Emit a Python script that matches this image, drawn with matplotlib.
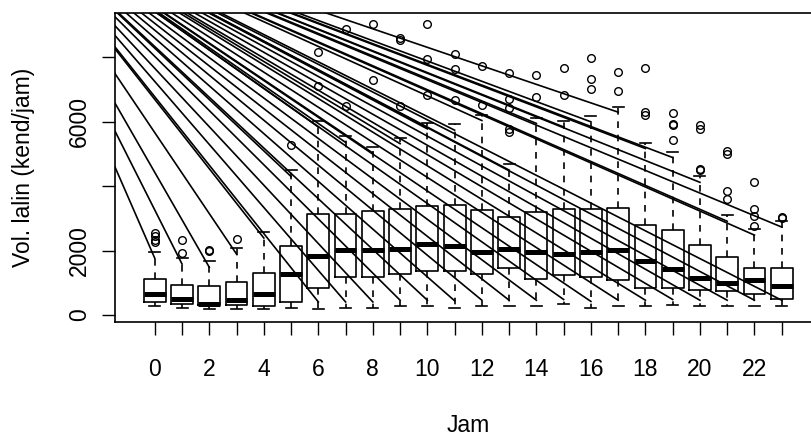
import numpy as np
import matplotlib
matplotlib.use("Agg")
import matplotlib.pyplot as plt

# Jam (hour of day) and box statistics
hours = list(range(24))
whisk_lo = [280, 230, 177, 177, 177, 230, 177, 230, 230, 280, 280, 230,
            280, 280, 280, 332, 230, 280, 280, 323, 280, 280, 280, 280]
q1 = [404, 332, 301, 301, 280, 404, 851, 1180, 1180, 1264, 1367, 1367,
      1264, 1472, 1130, 1233, 1180, 1077, 851, 851, 767, 736, 665, 509]
med = [665, 509, 354, 457, 665, 1286, 1823, 2010, 2010, 2062, 2196, 2134,
       1957, 2041, 1957, 1907, 1957, 2010, 1668, 1429, 1149, 994, 1077, 901]
q3 = [1130, 944, 891, 1025, 1317, 2143, 3149, 3149, 3221, 3305, 3377, 3429,
      3252, 3044, 3199, 3283, 3283, 3336, 2808, 2631, 2187, 1801, 1460, 1460]
whisk_hi = [1957, 1760, 1668, 2093, 2578, 4494, 6026, 5550, 5218, 5509, 5963, 5923,
            6224, 4681, 6131, 6026, 6181, 6461, 5355, 5063, 4308, 3097, 2662, 2910]
outliers = [
    [2258, 2342, 2444, 2547], [1926, 2320], [1988, 2031], [2351], [],
    [5293], [7113, 8169], [6482, 8895], [7311, 9051], [6482, 8532, 8616],
    [6823, 7964, 9051], [6690, 7631, 8119], [6535, 7735],
    [5684, 5789, 6441, 6721, 7529], [6771, 7445], [6823, 7684],
    [7032, 7342, 7984], [6958, 7539], [6202, 6305, 7684],
    [5426, 5892, 5923, 6286], [4494, 4547, 5789, 5892],
    [3615, 3851, 5013, 5094], [2764, 3075, 3305, 4131], [3000, 3044],
]

# stray lines drawn over the boxes: common start, one end per box
line_start = (-4.7, 12830)
line_hi_end = [1760, 1580, 1480, 1890, 2390, 4300, 5840, 5360, 5030, 5320, 5780, 5740,
               6040, 4500, 5950, 5840, 6000, 6300, 5170, 4890, 4120, 2910, 2480, 2730]
line_lo_end = [None, None, None, None, None, None, 404, 404, 404, 457, 457, 440,
               457, 457, 457, 480, 420, 457, 457, 480, 457, 457, 457, 457]

plt.rcParams['font.family'] = ['Liberation Sans', 'DejaVu Sans']

fig = plt.figure(figsize=(8.11, 4.36), dpi=100)
ax = fig.add_axes([115 / 811, 114.3 / 436, 706.5 / 811, 309 / 436])

pos = np.arange(1, 25)
stats = []
for i in range(24):
    stats.append(dict(med=med[i], q1=q1[i], q3=q3[i], whislo=whisk_lo[i],
                      whishi=whisk_hi[i], fliers=outliers[i]))

ax.bxp(stats, positions=pos, widths=0.8, showfliers=True,
       boxprops=dict(color='black', linewidth=1.2),
       medianprops=dict(color='black', linewidth=3.6, solid_capstyle='butt'),
       whiskerprops=dict(color='black', linewidth=1.2, linestyle=(0, (4, 4))),
       capprops=dict(color='black', linewidth=1.2),
       capwidths=0.4,
       flierprops=dict(marker='o', markerfacecolor='none', markeredgecolor='black',
                       markersize=5.5, markeredgewidth=1.0, linestyle='none'))

for i in range(24):
    ax.plot([line_start[0], pos[i]], [line_start[1], line_hi_end[i]],
            color='black', linewidth=1.2)
    if line_lo_end[i] is not None:
        ax.plot([line_start[0], pos[i]], [line_start[1], line_lo_end[i]],
                color='black', linewidth=1.2)

ax.set_xlim(-0.46, 25.46)
ax.set_ylim(-210, 9390)

ax.set_xticks(pos)
ax.set_xticklabels([str(h) if h % 2 == 0 else '' for h in hours], fontsize=16.5)
ax.set_yticks([0, 2000, 4000, 6000, 8000])
ax.set_yticklabels(['0', '2000', '', '6000', ''], fontsize=16.5, rotation=90, va='center')
ax.tick_params(axis='x', direction='out', length=9.4, width=1, pad=17)
ax.tick_params(axis='y', direction='out', length=9.4, width=1, pad=8)

for s in ax.spines.values():
    s.set_linewidth(1.2)

fig.text(468.7 / 811, 1 - 425 / 436, 'Jam', ha='center', va='center', fontsize=16.5)
fig.text(24 / 811, 1 - 167 / 436, 'Vol. lalin (kend/jam)', ha='center', va='center',
         rotation=90, fontsize=16.5)

fig.savefig('out.png', dpi=100)
